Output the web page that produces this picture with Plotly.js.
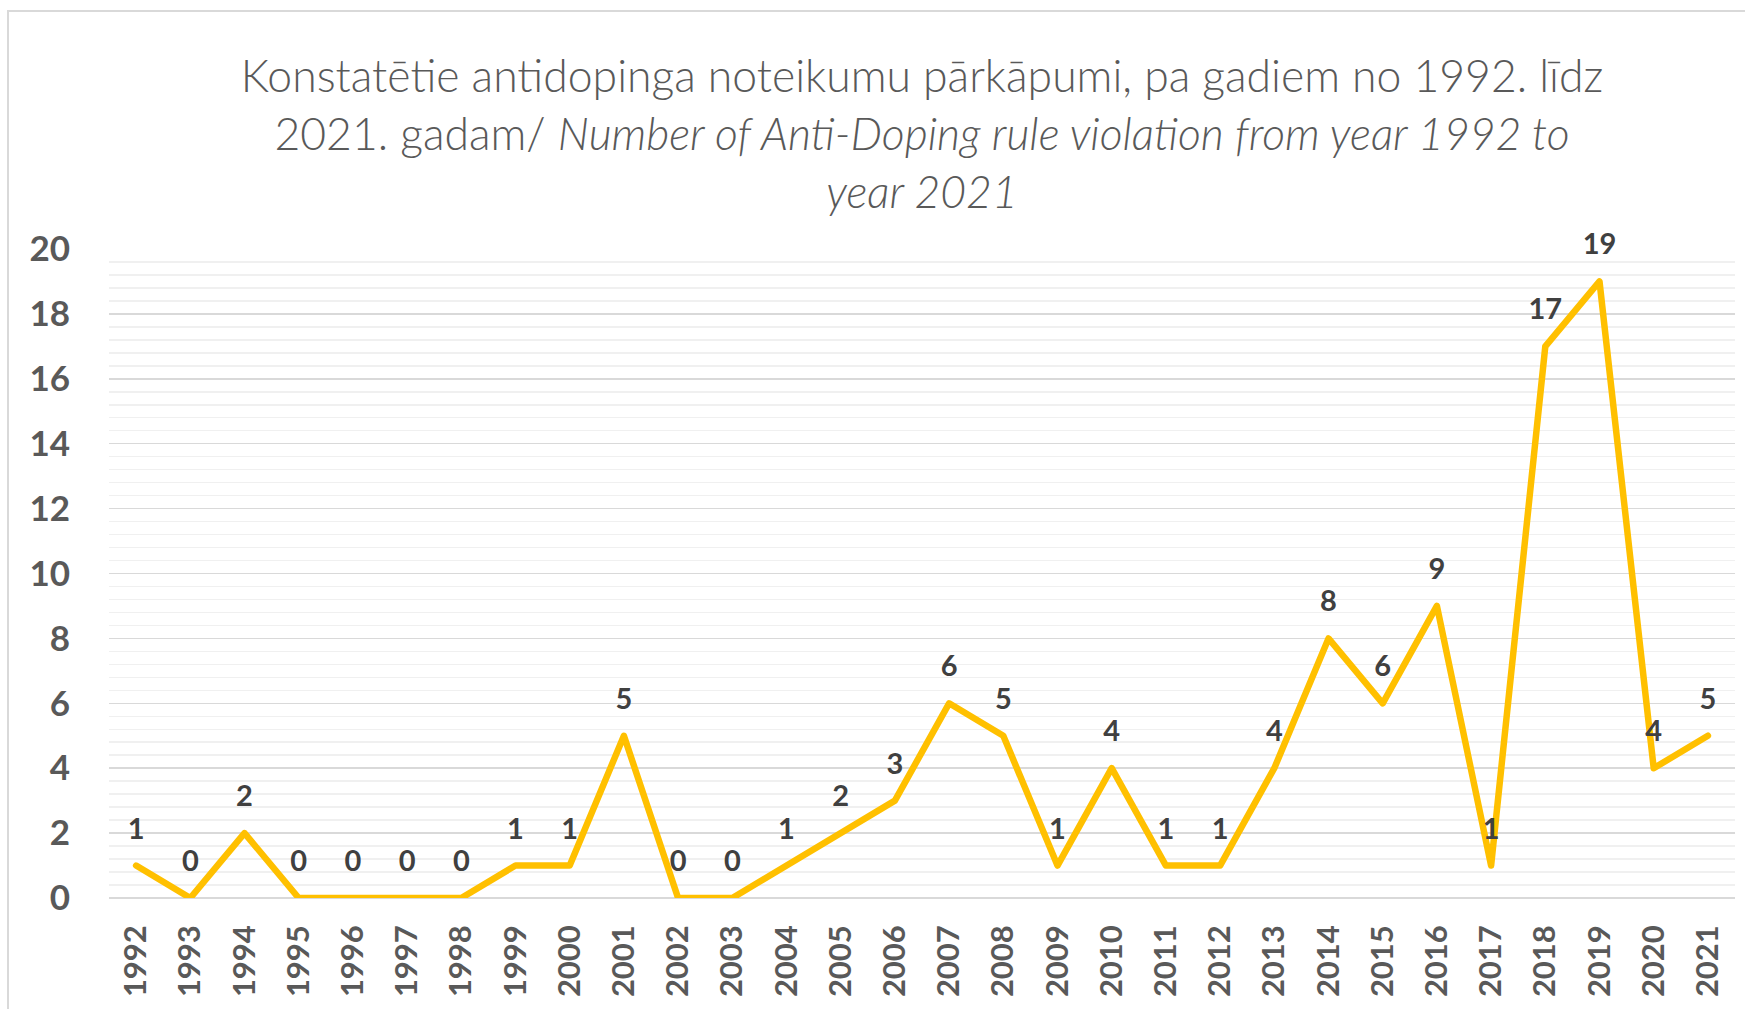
<!DOCTYPE html>
<html>
<head>
<meta charset="utf-8">
<script src="https://cdn.plot.ly/plotly-3.0.1.min.js"></script>
<style>
  html, body { margin: 0; padding: 0; overflow: hidden; background: #fff; }
  #frame { position: absolute; left: 7px; top: 10px; width: 1800px; height: 1100px;
           border-left: 2px solid #d9d9d9; border-top: 2px solid #d9d9d9; box-sizing: border-box; }
  #chart { position: absolute; left: 0; top: 0; width: 1745px; height: 1009px; }
  .js-line { stroke-linejoin: round; stroke-linecap: round; }
</style>
</head>
<body>
<div id="frame"></div>
<div id="chart"></div>
<script>
const years = ["1992","1993","1994","1995","1996","1997","1998","1999","2000","2001",
               "2002","2003","2004","2005","2006","2007","2008","2009","2010","2011",
               "2012","2013","2014","2015","2016","2017","2018","2019","2020","2021"];
const violations = [1,0,2,0,0,0,0,1,1,5,
                    0,0,1,2,3,6,5,1,4,1,
                    1,4,8,6,9,1,17,19,4,5];
const yTicks = [0,2,4,6,8,10,12,14,16,18,20];
const titleText = "Konstatētie antidopinga noteikumu pārkāpumi, pa gadiem no 1992. līdz<br>" +
                  "2021. gadam/ <i>Number of Anti-Doping rule violation from year 1992 to</i><br>" +
                  "<i>year 2021</i>";

const trace = {
  type: 'scatter',
  mode: 'lines+markers+text',
  x: years,
  y: violations,
  text: violations.map(String),
  textposition: 'top center',
  textfont: { family: 'Lato, sans-serif', size: 29, color: '#404040', weight: 700 },
  line: { color: '#FFC000', width: 6.5 },
  marker: { size: 30, color: 'rgba(0,0,0,0)' },
  cliponaxis: false,
  hoverinfo: 'x+y'
};

const layout = {
  width: 1745, height: 1009,
  paper_bgcolor: 'rgba(0,0,0,0)',
  plot_bgcolor: 'rgba(0,0,0,0)',
  margin: { l: 109, r: 10, t: 249, b: 111 },
  showlegend: false,
  title: {
    text: titleText,
    font: { family: 'Lato, sans-serif', size: 44.5, color: '#595959', weight: 300 },
    xref: 'paper', x: 0.5, xanchor: 'center',
    yref: 'container', y: 1 - 92/1009, yanchor: 'middle'
  },
  xaxis: {
    type: 'category',
    range: [-0.5, 29.5],
    tickangle: -90,
    tickfont: { family: 'Lato, sans-serif', size: 31, color: '#595959', weight: 700 },
    ticklabelstandoff: 20,
    showgrid: false,
    showline: false,
    ticks: ''
  },
  yaxis: {
    range: [0, 20],
    tickvals: yTicks,
    ticktext: yTicks.map(String),
    tickfont: { family: 'Lato, sans-serif', size: 35, color: '#595959', weight: 700 },
    ticklabelstandoff: 38,
    showgrid: true,
    gridcolor: '#d9d9d9',
    gridwidth: 1.5,
    zeroline: true,
    zerolinecolor: '#d9d9d9',
    zerolinewidth: 1.5,
    ticks: '',
    minor: { dtick: 0.4, showgrid: true, gridcolor: '#f0f0f0', gridwidth: 1.5, ticks: '' }
  }
};

Plotly.newPlot('chart', [trace], layout, { displayModeBar: false, staticPlot: true });
</script>
</body>
</html>
